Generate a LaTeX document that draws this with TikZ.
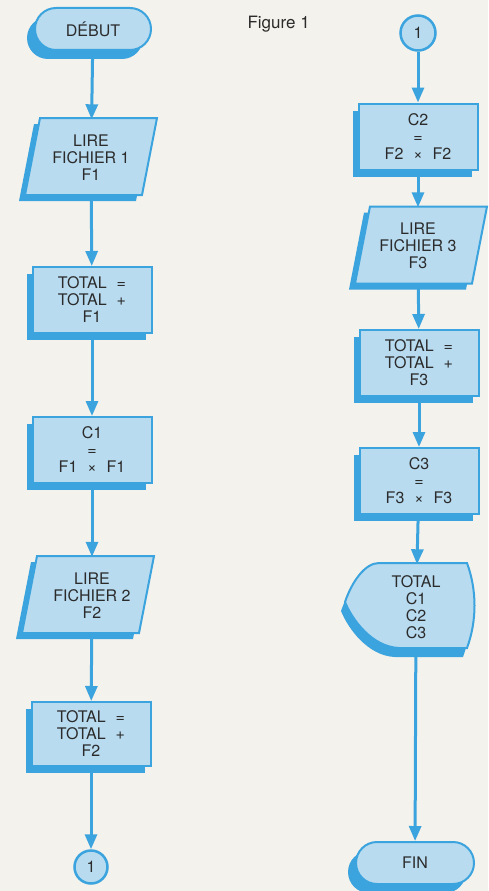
\documentclass[tikz,border=0pt]{standalone}
\usepackage{fontspec}
\setmainfont{TeX Gyre Heros}
\usetikzlibrary{arrows.meta,shapes.misc,shadows}
\definecolor{paper}{HTML}{F4F2EC}
\definecolor{lblue}{HTML}{B8DBF0}
\definecolor{bord}{HTML}{3BA3DD}
\definecolor{ink}{HTML}{2B2B2B}
\newcommand{\gp}{\hspace{0.62em}}
\tikzset{
  lbl/.style={font=\fontsize{16}{17}\selectfont, text=ink, align=center},
  procbox/.style={lbl, rectangle, draw=bord, fill=lblue, line width=2pt,
    minimum width=119pt, minimum height=66pt, inner sep=0pt,
    drop shadow={shadow xshift=-6pt,shadow yshift=-7pt,fill=bord,opacity=1}},
  termbox/.style={lbl, rounded rectangle, draw=bord, fill=lblue, line width=2pt,
    minimum height=42pt, inner sep=0pt,
    drop shadow={shadow xshift=-8pt,shadow yshift=-9pt,fill=bord,opacity=1}},
  connbox/.style={lbl, circle, draw=bord, fill=lblue, line width=2.5pt,
    minimum size=33pt, inner sep=0pt},
  iotext/.style={lbl, rectangle, minimum width=100pt, minimum height=77pt, inner sep=0pt},
  disptext/.style={lbl, rectangle, minimum width=90pt, minimum height=85pt, inner sep=0pt},
  flow/.style={draw=bord, line width=3pt, -{Triangle[width=12pt,length=15pt]}},
  iosymbol/.pic={
    \fill[bord,shift={(-6,6)}] (-66,38.5) -- (51,38.5) -- (66,-38.5) -- (-51,-38.5) -- cycle;
    \filldraw[fill=lblue,draw=bord,line width=2pt,line join=miter]
      (-66,38.5) -- (51,38.5) -- (66,-38.5) -- (-51,-38.5) -- cycle;
  },
  dispsymbol/.pic={
    \fill[bord,shift={(-4,9)}] (-65,-3.5) .. controls (-58,-24) and (-45,-42.5) .. (-31,-42.5)
      -- (57,-42.5) .. controls (67,-15) and (67,15) .. (57,42.5)
      -- (-11,42.5) .. controls (-38,41.5) and (-58,14) .. (-65,-3.5) -- cycle;
    \filldraw[fill=lblue,draw=bord,line width=2pt]
      (-65,-3.5) .. controls (-58,-24) and (-45,-42.5) .. (-31,-42.5)
      -- (57,-42.5) .. controls (67,-15) and (67,15) .. (57,42.5)
      -- (-11,42.5) .. controls (-38,41.5) and (-58,14) .. (-65,-3.5) -- cycle;
  }
}
\begin{document}
\begin{tikzpicture}[x=1pt,y=-1pt]
\fill[paper] (0,0) rectangle (488,891);
\useasboundingbox (0,0) rectangle (488,891);

% left column
\node[termbox, minimum width=116pt] (debut) at (93,29) {DÉBUT};
\pic at (91,156.5) {iosymbol};
\node[iotext] (lire1) at (91,158) {LIRE\\FICHIER 1\\F1};
\node[procbox] (tot1) at (92,300) {TOTAL\gp=\\TOTAL\gp+\\F1};
\node[procbox] (c1) at (92,450) {C1\\=\\F1\gp×\gp F1};
\pic at (88,594.5) {iosymbol};
\node[iotext] (lire2) at (92,595.5) {LIRE\\FICHIER 2\\F2};
\node[procbox, minimum height=64pt] (tot2) at (91,734) {TOTAL\gp=\\TOTAL\gp+\\F2};
\node[connbox] (cb) at (91,867) {1};

% right column
\node[lbl, font=\fontsize{17}{18}\selectfont, anchor=west] (fig) at (244,24) {Figure 1};
\node[connbox, minimum size=35pt] (ct) at (418,33) {1};
\node[procbox] (c2) at (418,136.5) {C2\\=\\F2\gp×\gp F2};
\pic at (421,245) {iosymbol};
\node[iotext] (lire3) at (418,246) {LIRE\\FICHIER 3\\F3};
\node[procbox] (tot3) at (419,363) {TOTAL\gp=\\TOTAL\gp+\\F3};
\node[procbox] (c3) at (419,481) {C3\\=\\F3\gp×\gp F3};
\pic at (410,605.5) {dispsymbol};
\node[disptext] (disp) at (416,607) {TOTAL\\C1\\C2\\C3};
\node[termbox, minimum width=118pt] (fin) at (415,863) {FIN};

% connectors
\draw[flow] (debut) -- (lire1);
\draw[flow] (lire1) -- (tot1);
\draw[flow] (tot1) -- (c1);
\draw[flow] (c1) -- (lire2);
\draw[flow] (lire2) -- (tot2);
\draw[flow] (tot2) -- (cb);
\draw[flow] (ct) -- (c2);
\draw[flow] (c2) -- (lire3);
\draw[flow] (lire3) -- (tot3);
\draw[flow] (tot3) -- (c3);
\draw[flow] (c3) -- (disp);
\draw[flow] (disp) -- (fin);
\end{tikzpicture}
\end{document}
